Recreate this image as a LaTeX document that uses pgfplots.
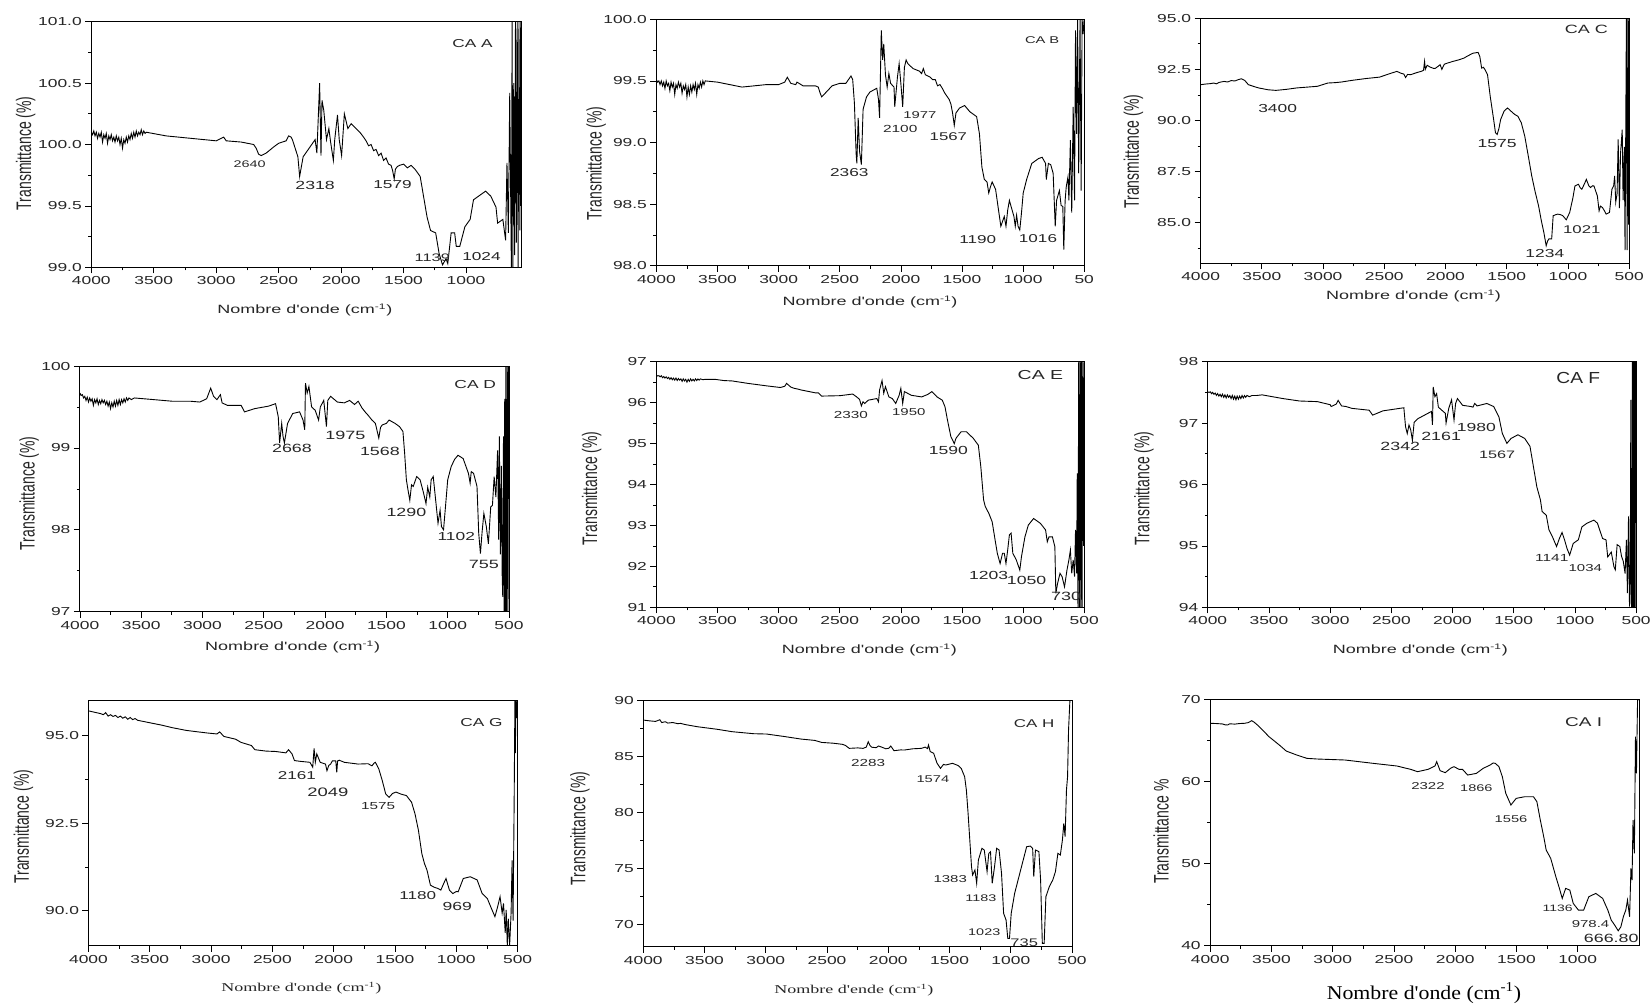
\documentclass[border=0pt]{standalone}
\usepackage{pgfplots}
\pgfplotsset{compat=1.18}
\usepackage{fontspec}
\setmainfont{Liberation Sans}
\newfontfamily\sans{Liberation Sans}
\newfontfamily\serif{Liberation Serif}
\definecolor{tx}{HTML}{262626}
\newcommand{\fs}[1]{\fontsize{#1pt}{#1pt}\selectfont}
\newcommand{\hs}[1]{\scalebox{1.5}[1]{#1}}
\newcommand{\ylab}[1]{\scalebox{1}[1.5]{\sans\fs{14}#1}}
\pgfplotsset{
  panel/.style={
    scale only axis, anchor=north west, x dir=reverse,
    tick align=outside, tick pos=left,
    major tick length=6pt, minor tick length=3pt, minor tick num=1,
    axis line style={line width=0.8pt},
    every tick/.style={black, line width=0.7pt},
    ticklabel style={font=\sans\fs{11.6}, text=tx},
    /pgf/number format/assume math mode=true,
    /pgf/number format/1000 sep={},
    xticklabel={\hs{\pgfmathprintnumber{\tick}}},
    yticklabel={\hs{\pgfmathprintnumber{\tick}}},
    xmin=500, xmax=4000, xtick={500,1000,1500,2000,2500,3000,3500,4000},
    clip mode=individual,
  },
  spec/.style={black, line width=0.9pt, mark=none},
  onedec/.style={yticklabel style={/pgf/number format/.cd, fixed, fixed zerofill, precision=1}},
}
\tikzset{ann/.style={text=tx, inner sep=0pt}}
\newcommand{\an}[4]{\node[ann] at (axis cs:#1,#2) {\hs{\sans\fs{#3}#4}};}
\begin{document}
\begin{tikzpicture}
\useasboundingbox (0pt,0pt) rectangle (1652pt,-1005pt);

% ---------------- CA A ----------------
\begin{axis}[panel, onedec, at={(91.3pt,-21.7pt)}, width=429.8pt, height=245.6pt,
  xmin=559, xtick={1000,1500,2000,2500,3000,3500,4000},
  ymin=99, ymax=101, ytick={99,99.5,100,100.5,101}]
\addplot[spec] coordinates {(4000,100.10) (3990,100.08) (3980,100.11) (3970,100.07) (3960,100.10) (3950,100.05) (3940,100.09) (3930,100.06) (3920,100.10) (3910,100.02) (3900,100.08) (3890,100.05) (3880,100.09) (3870,100.01) (3860,100.07) (3850,100.04) (3840,100.08) (3830,100.03) (3820,100.06) (3810,100.02) (3800,100.07) (3790,100.03) (3780,100.06) (3770,100.00) (3760,100.05) (3750,99.97) (3740,100.04) (3730,100.01) (3720,100.06) (3710,100.02) (3700,100.07) (3690,100.04) (3680,100.09) (3670,100.05) (3660,100.10) (3650,100.06) (3640,100.11) (3630,100.07) (3620,100.10) (3610,100.08) (3600,100.12) (3590,100.08) (3580,100.11) (3570,100.09) (3560,100.10) (3400,100.07) (3200,100.05) (3000,100.03) (2940,100.06) (2920,100.03) (2800,100.02) (2700,100.0) (2680,99.97) (2660,99.92) (2640,99.91) (2600,99.93) (2540,99.98) (2500,100.01) (2440,100.03) (2420,100.07) (2400,100.06) (2390,100.04) (2346,99.90) (2332,99.74) (2304,99.90) (2249,99.98) (2208,100.04) (2194,99.93) (2172,100.50) (2161,99.91) (2153,100.36) (2139,100.28) (2117,100.04) (2098,100.13) (2084,100.02) (2062,99.87) (2051,100.04) (2029,100.24) (2015,100.04) (1996,99.91) (1974,100.25) (1946,100.13) (1919,100.17) (1880,100.13) (1850,100.10) (1820,100.06) (1800,100.03) (1780,99.99) (1760,100.00) (1740,99.95) (1720,99.96) (1700,99.91) (1680,99.93) (1660,99.87) (1640,99.89) (1620,99.84) (1600,99.83) (1588,99.79) (1575,99.72) (1565,99.80) (1550,99.82) (1533,99.83) (1500,99.84) (1470,99.81) (1440,99.83) (1410,99.80) (1395,99.78) (1367,99.74) (1312,99.41) (1284,99.30) (1243,99.28) (1215,99.11) (1188,99.02) (1160,99.07) (1146,99.03) (1119,99.28) (1091,99.28) (1078,99.17) (1050,99.17) (1022,99.28) (1009,99.33) (967,99.39) (940,99.55) (871,99.60) (843,99.62) (802,99.58) (760,99.49) (747,99.36) (705,99.39) (683,99.22) (672,99.85) (661,99.28) (650,100.42) (637,99.0) (631,101.0) (625,99.0) (618,100.5) (611,99.1) (604,101.0) (597,99.2) (590,101.0) (583,99.0) (576,101.0) (569,99.3) (562,101.0) (559,99.5)};
\an{2732}{99.84}{9.6}{2640}
\an{2208}{99.67}{11.8}{2318}
\an{1588}{99.67}{11.5}{1579}
\an{1270}{99.08}{10.9}{1139}
\an{876}{99.09}{11.5}{1024}
\an{948}{100.82}{11.5}{CA A}
\end{axis}

% ---------------- CA B ----------------
\begin{axis}[panel, onedec, at={(656.4pt,-19.3pt)}, width=427.8pt, height=246.4pt,
  ymin=98, ymax=100, ytick={98,98.5,99,99.5,100},
  xticklabels={\hs{50},\hs{1000},\hs{1500},\hs{2000},\hs{2500},\hs{3000},\hs{3500},\hs{4000}}]
\addplot[spec] coordinates {(4000,99.51) (3990,99.49) (3980,99.50) (3970,99.47) (3960,99.50) (3950,99.46) (3940,99.49) (3930,99.44) (3920,99.50) (3910,99.46) (3900,99.48) (3890,99.42) (3880,99.49) (3870,99.45) (3860,99.48) (3850,99.39) (3840,99.47) (3830,99.44) (3820,99.49) (3810,99.45) (3800,99.48) (3790,99.40) (3780,99.46) (3770,99.43) (3760,99.47) (3750,99.37) (3740,99.45) (3730,99.39) (3720,99.46) (3710,99.41) (3700,99.47) (3690,99.43) (3680,99.48) (3670,99.39) (3660,99.47) (3650,99.44) (3640,99.49) (3630,99.45) (3620,99.50) (3610,99.47) (3600,99.50) (3500,99.49) (3400,99.47) (3300,99.45) (3200,99.46) (3100,99.47) (3000,99.47) (2950,99.49) (2929,99.53) (2900,99.48) (2860,99.47) (2850,99.49) (2800,99.46) (2700,99.46) (2676,99.45) (2660,99.40) (2648,99.37) (2600,99.42) (2563,99.46) (2500,99.48) (2450,99.48) (2408,99.54) (2394,99.51) (2380,99.32) (2366,98.91) (2360,98.83) (2349,99.20) (2338,98.93) (2323,98.82) (2309,99.27) (2281,99.37) (2253,99.41) (2197,99.44) (2183,99.35) (2174,99.20) (2160,99.91) (2149,99.67) (2140,99.80) (2126,99.55) (2112,99.45) (2098,99.56) (2084,99.48) (2056,99.45) (2050,99.29) (2028,99.53) (2014,99.64) (2000,99.48) (1985,99.29) (1971,99.61) (1957,99.67) (1943,99.64) (1900,99.60) (1850,99.58) (1830,99.56) (1816,99.60) (1800,99.55) (1760,99.53) (1740,99.51) (1718,99.51) (1700,99.46) (1680,99.47) (1661,99.44) (1640,99.40) (1605,99.35) (1590,99.31) (1577,99.24) (1563,99.14) (1549,99.24) (1520,99.28) (1478,99.30) (1436,99.25) (1380,99.21) (1357,99.07) (1337,98.80) (1317,98.70) (1295,98.68) (1281,98.59) (1267,98.64) (1253,98.68) (1225,98.62) (1205,98.48) (1182,98.32) (1154,98.40) (1140,98.32) (1126,98.45) (1112,98.53) (1098,98.48) (1075,98.40) (1064,98.32) (1053,98.41) (1041,98.32) (1027,98.29) (1013,98.43) (999,98.59) (971,98.70) (929,98.83) (873,98.87) (844,98.88) (816,98.83) (810,98.70) (793,98.83) (774,98.82) (754,98.75) (737,98.32) (726,98.53) (703,98.61) (689,98.49) (675,98.48) (667,98.13) (656,98.53) (647,98.64) (633,98.72) (625,98.53) (613,99.02) (602,98.43) (590,99.29) (579,98.53) (571,99.91) (562,99.07) (554,100.0) (545,98.75) (534,100.0) (525,98.61) (517,100.0) (509,99.88) (501,100.0)};
\an{2422}{98.76}{11.5}{2363}
\an{2005}{99.11}{10.3}{2100}
\an{1845}{99.22}{9.9}{1977}
\an{1611}{99.05}{11.2}{1567}
\an{1371}{98.21}{11.4}{1190}
\an{878}{98.22}{11.4}{1016}
\an{844}{99.83}{9.8}{CA B}
\end{axis}

% ---------------- CA C ----------------
\begin{axis}[panel, onedec, at={(1200.6pt,-18.3pt)}, width=428.6pt, height=245pt,
  ymin=83, ymax=95, ytick={85,87.5,90,92.5,95}, minor y tick num=0, minor ytick={83.75,86.25,88.75,91.25,93.75}]
\addplot[spec] coordinates {(4000,91.75) (3960,91.78) (3920,91.80) (3893,91.83) (3870,91.79) (3850,91.86) (3808,91.91) (3780,91.88) (3750,91.95) (3720,91.93) (3695,91.99) (3667,92.04) (3640,91.96) (3610,91.75) (3560,91.65) (3526,91.59) (3450,91.50) (3385,91.47) (3300,91.52) (3215,91.59) (3150,91.62) (3046,91.67) (2961,91.83) (2900,91.85) (2850,91.88) (2764,91.96) (2650,92.05) (2538,92.12) (2450,92.30) (2397,92.40) (2360,92.30) (2340,92.27) (2326,92.10) (2310,92.25) (2284,92.24) (2230,92.35) (2199,92.40) (2180,92.45) (2171,92.89) (2165,92.50) (2150,92.70) (2129,92.62) (2100,92.55) (2086,92.54) (2060,92.65) (2044,92.73) (2030,92.50) (2010,92.75) (1988,92.80) (1960,92.85) (1945,92.88) (1889,92.97) (1850,93.05) (1818,93.16) (1776,93.29) (1734,93.33) (1720,93.13) (1705,92.56) (1690,92.60) (1677,92.48) (1657,92.24) (1635,91.18) (1607,90.04) (1592,89.39) (1578,89.31) (1564,89.60) (1550,90.04) (1522,90.45) (1494,90.61) (1465,90.45) (1437,90.30) (1409,90.20) (1381,89.88) (1353,89.23) (1324,88.25) (1296,87.28) (1268,86.50) (1240,85.81) (1218,85.10) (1197,84.51) (1178,83.86) (1166,84.10) (1155,84.20) (1133,84.20) (1121,85.33) (1100,85.38) (1084,85.41) (1060,85.38) (1042,85.33) (1014,85.13) (986,85.49) (960,86.20) (943,86.79) (915,86.87) (900,86.70) (887,86.63) (865,86.90) (850,87.11) (830,86.80) (816,86.71) (800,86.80) (788,86.79) (760,86.30) (746,85.57) (735,85.80) (718,85.73) (700,85.55) (689,85.41) (661,85.49) (641,86.63) (627,86.79) (619,87.28) (610,86.00) (599,86.41) (590,89.07) (580,85.70) (571,88.37) (557,89.55) (550,86.10) (540,88.70) (534,83.65) (523,95.0) (517,83.65) (511,95.0) (506,84.9) (500,95.0)};
\an{3371}{90.58}{11.6}{3400}
\an{1578}{88.85}{11.7}{1575}
\an{1189}{83.5}{11.6}{1234}
\an{887}{84.67}{11.2}{1021}
\an{850}{94.46}{12}{CA C}
\end{axis}

% ---------------- CA D ----------------
\begin{axis}[panel, at={(79.9pt,-366pt)}, width=429.1pt, height=245.7pt,
  ymin=97, ymax=100, ytick={97,98,99,100}]
\addplot[spec] coordinates {(4000,99.67) (3990,99.64) (3980,99.65) (3970,99.61) (3960,99.63) (3950,99.58) (3940,99.62) (3930,99.56) (3920,99.61) (3910,99.57) (3900,99.60) (3890,99.52) (3880,99.59) (3870,99.55) (3860,99.60) (3850,99.53) (3840,99.58) (3830,99.54) (3820,99.59) (3810,99.55) (3800,99.58) (3790,99.53) (3780,99.57) (3770,99.51) (3760,99.56) (3750,99.48) (3740,99.55) (3730,99.50) (3720,99.57) (3710,99.51) (3700,99.58) (3690,99.52) (3680,99.59) (3670,99.53) (3660,99.59) (3650,99.55) (3640,99.60) (3630,99.56) (3620,99.61) (3610,99.58) (3600,99.61) (3580,99.59) (3556,99.61) (3400,99.59) (3247,99.57) (3100,99.57) (3022,99.56) (2966,99.60) (2933,99.73) (2910,99.63) (2882,99.59) (2854,99.65) (2840,99.55) (2798,99.52) (2685,99.52) (2657,99.44) (2573,99.48) (2461,99.51) (2404,99.54) (2382,99.38) (2371,99.06) (2354,99.30) (2343,99.14) (2332,99.06) (2306,99.30) (2264,99.42) (2208,99.44) (2180,99.34) (2166,99.22) (2160,99.79) (2146,99.67) (2132,99.75) (2110,99.50) (2081,99.46) (2053,99.34) (2039,99.50) (2011,99.58) (1989,99.26) (1978,99.58) (1955,99.63) (1900,99.56) (1843,99.55) (1800,99.58) (1760,99.53) (1730,99.57) (1700,99.49) (1674,99.44) (1650,99.40) (1618,99.34) (1590,99.30) (1562,99.12) (1548,99.25) (1534,99.28) (1500,99.30) (1478,99.34) (1430,99.30) (1393,99.26) (1365,99.20) (1351,98.93) (1337,98.61) (1323,98.48) (1309,98.36) (1295,98.55) (1281,98.53) (1253,98.65) (1225,98.61) (1197,98.45) (1177,98.32) (1163,98.52) (1146,98.40) (1135,98.61) (1118,98.65) (1098,98.36) (1079,98.08) (1062,98.24) (1051,98.04) (1034,98.00) (1017,98.30) (1000,98.61) (972,98.77) (944,98.86) (916,98.91) (874,98.87) (831,98.69) (817,98.57) (808,98.71) (789,98.69) (761,98.53) (747,97.96) (733,97.71) (719,97.98) (705,98.20) (685,98.04) (668,97.83) (649,98.28) (635,98.30) (621,98.65) (607,98.40) (593,98.97) (584,97.88) (579,99.14) (570,97.70) (562,98.78) (556,97.47) (551,97.18) (545,99.14) (540,97.0) (535,99.6) (530,97.0) (525,100.0) (519,97.0) (514,100.0) (508,97.0) (503,100.0) (500,98.5)};
\an{2270}{98.99}{11.9}{2668}
\an{1834}{99.15}{12}{1975}
\an{1553}{98.96}{11.9}{1568}
\an{1337}{98.21}{11.9}{1290}
\an{930}{97.92}{11.6}{1102}
\an{705}{97.58}{12}{755}
\an{775}{99.77}{11.6}{CA D}
\end{axis}

% ---------------- CA E ----------------
\begin{axis}[panel, at={(656.4pt,-361.7pt)}, width=427.8pt, height=245.6pt,
  ymin=91, ymax=97, ytick={91,92,93,94,95,96,97}]
\addplot[spec] coordinates {(4000,96.67) (3990,96.65) (3980,96.66) (3970,96.63) (3960,96.66) (3950,96.61) (3940,96.64) (3930,96.60) (3920,96.63) (3910,96.59) (3900,96.62) (3890,96.57) (3880,96.61) (3870,96.56) (3860,96.60) (3850,96.55) (3840,96.60) (3830,96.54) (3820,96.59) (3810,96.55) (3800,96.58) (3790,96.52) (3780,96.58) (3770,96.53) (3760,96.57) (3750,96.50) (3740,96.57) (3730,96.52) (3720,96.58) (3710,96.53) (3700,96.57) (3690,96.53) (3680,96.58) (3670,96.54) (3660,96.58) (3650,96.55) (3640,96.58) (3620,96.56) (3600,96.57) (3521,96.57) (3450,96.54) (3380,96.53) (3250,96.47) (3098,96.41) (2986,96.37) (2950,96.40) (2935,96.47) (2900,96.38) (2873,96.35) (2840,96.33) (2817,96.31) (2700,96.24) (2676,96.24) (2648,96.16) (2500,96.17) (2394,96.21) (2366,96.15) (2338,96.08) (2323,95.92) (2310,96.02) (2295,95.98) (2267,96.06) (2197,96.10) (2183,96.02) (2174,96.31) (2154,96.54) (2140,96.23) (2126,96.39) (2098,96.14) (2070,96.10) (2042,95.98) (2014,96.18) (2000,96.35) (1985,95.98) (1971,96.27) (1915,96.18) (1830,96.14) (1780,96.20) (1746,96.27) (1704,96.14) (1661,96.06) (1639,95.90) (1619,95.58) (1591,95.17) (1563,95.00) (1549,95.13) (1507,95.29) (1464,95.29) (1408,95.13) (1366,94.96) (1346,94.44) (1323,93.62) (1309,93.46) (1281,93.30) (1253,93.09) (1233,92.72) (1211,92.32) (1188,92.07) (1168,92.32) (1154,92.32) (1140,92.07) (1126,92.40) (1112,92.77) (1098,92.81) (1084,92.32) (1070,92.24) (1056,92.16) (1027,91.91) (1013,92.24) (985,92.72) (957,93.01) (914,93.17) (858,93.05) (816,92.89) (802,92.60) (788,92.72) (760,92.72) (740,92.48) (732,91.34) (718,91.58) (698,91.83) (681,91.75) (661,91.50) (641,91.91) (625,92.16) (613,92.40) (602,91.83) (590,92.16) (579,91.75) (571,92.89) (562,91.83) (557,94.27) (551,91.0) (545,97.0) (540,91.0) (534,97.0) (528,91.0) (523,97.0) (517,91.0) (512,97.0) (506,92.5) (500,97.0)};
\an{2408}{95.70}{10.2}{2330}
\an{1935}{95.76}{10}{1950}
\an{1611}{94.82}{11.7}{1590}
\an{1281}{91.79}{11.7}{1203}
\an{971}{91.65}{11.8}{1050}
\an{647}{91.26}{12}{730}
\an{858}{96.67}{13}{CA E}
\end{axis}

% ---------------- CA F ----------------
\begin{axis}[panel, at={(1207.8pt,-361.7pt)}, width=428.3pt, height=245.6pt,
  ymin=94, ymax=98, ytick={94,95,96,97,98}]
\addplot[spec] coordinates {(4000,97.51) (3990,97.50) (3980,97.51) (3970,97.48) (3960,97.50) (3950,97.47) (3940,97.49) (3930,97.45) (3920,97.48) (3910,97.44) (3900,97.47) (3890,97.43) (3880,97.47) (3870,97.42) (3860,97.46) (3850,97.41) (3840,97.46) (3830,97.42) (3820,97.45) (3810,97.40) (3800,97.45) (3790,97.39) (3780,97.44) (3770,97.38) (3760,97.44) (3750,97.39) (3740,97.44) (3730,97.40) (3720,97.45) (3710,97.41) (3700,97.45) (3690,97.42) (3680,97.45) (3660,97.43) (3640,97.45) (3600,97.45) (3556,97.46) (3387,97.40) (3250,97.36) (3105,97.35) (3000,97.30) (2992,97.27) (2950,97.31) (2935,97.37) (2907,97.28) (2870,97.27) (2822,97.24) (2681,97.21) (2653,97.13) (2568,97.20) (2398,97.25) (2384,96.94) (2370,96.83) (2356,96.97) (2342,96.89) (2328,96.72) (2314,97.01) (2285,97.07) (2201,97.16) (2172,97.19) (2164,96.97) (2158,97.59) (2144,97.43) (2130,97.48) (2116,97.26) (2088,97.21) (2059,97.16) (2053,97.0) (2031,97.24) (2008,97.38) (1988,97.05) (1975,97.32) (1960,97.40) (1918,97.29) (1850,97.27) (1833,97.26) (1819,97.32) (1800,97.28) (1720,97.32) (1664,97.27) (1621,97.10) (1593,96.83) (1556,96.67) (1522,96.75) (1466,96.81) (1410,96.75) (1367,96.62) (1339,96.29) (1311,95.96) (1282,95.75) (1268,95.56) (1234,95.50) (1212,95.26) (1184,95.15) (1150,94.99) (1127,95.12) (1105,95.22) (1085,95.10) (1065,94.96) (1043,94.85) (1014,95.04) (972,95.10) (943,95.31) (901,95.37) (845,95.42) (816,95.37) (774,95.12) (746,95.10) (732,94.82) (703,94.90) (681,94.66) (670,94.61) (655,95.02) (633,94.99) (619,94.83) (605,94.75) (590,94.55) (579,95.10) (571,94.23) (562,95.48) (554,94.01) (548,94.5) (543,97.38) (538,94.0) (534,94.0) (530,98.0) (525,94.0) (521,98.0) (517,94.0) (513,98.0) (508,94.0) (504,98.0) (500,97.4)};
\an{2427}{96.62}{11.9}{2342}
\an{2093}{96.78}{11.9}{2161}
\an{1805}{96.93}{11.7}{1980}
\an{1636}{96.49}{10.8}{1567}
\an{1189}{94.81}{10.3}{1141}
\an{915}{94.64}{10}{1034}
\node[ann] at (axis cs:972,97.73) {\scalebox{1.2}[1]{\sans\fs{16}CA F}};
\end{axis}

% ---------------- CA G ----------------
\begin{axis}[panel, onedec, at={(88.5pt,-700.7pt)}, width=429.1pt, height=245pt,
  ymin=89, ymax=96, ytick={90,92.5,95}, minor y tick num=0, minor ytick={91.25,93.75}]
\addplot[spec] coordinates {(4000,95.71) (3950,95.67) (3900,95.63) (3879,95.60) (3860,95.66) (3840,95.56) (3820,95.60) (3800,95.55) (3780,95.58) (3760,95.52) (3740,95.56) (3720,95.50) (3700,95.54) (3680,95.47) (3660,95.52) (3640,95.46) (3620,95.49) (3598,95.44) (3514,95.38) (3400,95.30) (3317,95.23) (3200,95.15) (3037,95.08) (2952,95.05) (2930,95.11) (2896,94.98) (2800,94.90) (2756,94.81) (2700,94.75) (2671,94.72) (2643,94.60) (2550,94.56) (2475,94.55) (2390,94.51) (2368,94.60) (2340,94.48) (2320,94.29) (2278,94.27) (2194,94.24) (2171,94.10) (2160,94.64) (2150,94.24) (2138,94.48) (2110,94.24) (2067,94.19) (2055,94.00) (2040,94.15) (2025,94.19) (2011,94.28) (1983,94.28) (1975,93.95) (1968,94.28) (1955,94.30) (1913,94.24) (1801,94.19) (1720,94.20) (1688,94.14) (1670,94.22) (1660,94.24) (1632,94.05) (1604,93.72) (1576,93.34) (1548,93.24) (1520,93.35) (1492,93.39) (1450,93.33) (1407,93.29) (1365,93.10) (1337,92.77) (1309,92.30) (1281,91.63) (1260,91.35) (1239,91.16) (1211,90.73) (1180,90.67) (1154,90.64) (1126,90.59) (1100,90.80) (1084,90.92) (1056,90.59) (1028,90.49) (1000,90.55) (985,90.54) (943,90.92) (886,90.97) (830,90.88) (789,90.49) (747,90.35) (719,90.11) (685,89.83) (663,90.11) (643,90.40) (626,89.93) (615,90.21) (601,89.37) (593,90.02) (584,89.0) (576,89.77) (565,89.0) (553,89.94) (545,91.44) (537,89.72) (528,93.15) (522,96.0) (518,94.5) (514,96.0) (508,95.5) (503,96.0)};
\an{2301}{93.86}{11.4}{2161}
\an{2048}{93.39}{12.3}{2049}
\an{1638}{92.98}{10.2}{1575}
\an{1315}{90.42}{11.4}{1180}
\an{992}{90.11}{11.7}{969}
\an{795}{95.38}{11.5}{CA G}
\end{axis}

% ---------------- CA H ----------------
\begin{axis}[panel, at={(643.3pt,-700.7pt)}, width=428.8pt, height=246pt,
  ymin=68, ymax=90, ytick={70,75,80,85,90}]
\addplot[spec] coordinates {(4000,88.27) (3950,88.20) (3900,88.15) (3865,88.30) (3850,88.05) (3820,88.12) (3800,88.0) (3760,88.05) (3720,87.95) (3696,87.97) (3650,87.85) (3556,87.67) (3400,87.45) (3275,87.23) (3100,87.05) (2994,87.02) (2850,86.80) (2712,86.57) (2600,86.45) (2544,86.27) (2450,86.20) (2375,86.10) (2350,86.00) (2319,85.74) (2250,85.78) (2206,85.74) (2180,85.85) (2164,86.33) (2150,86.00) (2136,85.84) (2100,85.80) (2080,85.95) (2052,85.84) (2020,85.70) (1996,85.75) (1980,85.95) (1954,85.53) (1900,85.60) (1869,85.59) (1800,85.70) (1729,85.74) (1700,85.85) (1680,85.72) (1672,86.04) (1658,85.45) (1630,85.30) (1602,84.40) (1574,83.95) (1550,84.30) (1532,84.25) (1476,84.40) (1430,84.20) (1405,83.95) (1377,83.20) (1363,82.01) (1349,79.93) (1335,77.54) (1321,75.16) (1312,74.41) (1293,74.86) (1279,73.67) (1265,75.75) (1236,76.80) (1217,76.65) (1194,74.71) (1180,76.35) (1166,76.50) (1152,73.67) (1133,75.16) (1116,76.80) (1096,76.65) (1076,74.56) (1059,70.98) (1039,70.39) (1025,68.75) (1011,68.75) (997,70.98) (969,72.77) (913,75.16) (871,76.94) (842,77.00) (822,76.80) (813,74.26) (799,76.65) (771,76.50) (757,73.96) (743,68.30) (728,68.30) (714,72.47) (686,73.37) (658,73.96) (636,74.71) (616,76.35) (596,76.20) (579,77.54) (568,79.03) (557,77.84) (546,82.01) (537,83.20) (529,87.38) (518,90.0)};
\an{2164}{84.46}{10.2}{2283}
\an{1636}{83.0}{9.8}{1574}
\an{1495}{74.02}{10}{1383}
\an{1245}{72.38}{9.6}{1183}
\an{1217}{69.34}{9.6}{1023}
\an{891}{68.36}{11}{735}
\an{809}{87.97}{11.3}{CA H}
\end{axis}

% ---------------- CA I ----------------
\begin{axis}[panel, at={(1210.2pt,-699.3pt)}, width=428.7pt, height=246.4pt,
  xtick={1000,1500,2000,2500,3000,3500,4000},
  ymin=40, ymax=70, ytick={40,50,60,70}]
\addplot[spec] coordinates {(4000,67.08) (3950,67.05) (3900,67.00) (3880,66.90) (3859,66.87) (3840,67.02) (3800,66.98) (3760,67.05) (3720,67.08) (3690,67.16) (3661,67.40) (3640,67.20) (3605,66.75) (3520,65.45) (3436,64.44) (3379,63.70) (3294,63.22) (3210,62.81) (3125,62.73) (2899,62.61) (2673,62.21) (2476,61.88) (2363,61.47) (2307,61.19) (2222,61.47) (2165,61.88) (2151,62.41) (2123,61.31) (2081,61.07) (2038,61.60) (2010,61.80) (1968,61.47) (1940,61.47) (1898,60.78) (1827,60.98) (1771,61.60) (1714,62.00) (1690,62.25) (1672,62.20) (1643,61.80) (1615,60.58) (1587,58.55) (1545,57.13) (1502,57.94) (1432,58.14) (1361,58.14) (1333,57.54) (1305,55.30) (1277,53.27) (1257,51.65) (1220,50.63) (1178,48.40) (1149,46.98) (1126,45.76) (1098,46.98) (1064,46.77) (1036,45.15) (994,44.34) (951,44.34) (909,45.96) (852,46.37) (796,45.76) (754,44.34) (726,43.12) (698,42.51) (669,41.82) (647,42.31) (627,43.53) (607,44.34) (593,45.56) (576,43.53) (565,49.41) (556,48.0) (548,55.30) (537,51.24) (528,65.45) (520,60.98) (511,69.92) (500,70.0)};
\an{2222}{59.48}{10}{2322}
\an{1827}{59.24}{9.7}{1866}
\an{1544}{55.38}{9.8}{1556}
\an{1163}{44.54}{9.3}{1136}
\an{895}{42.64}{10}{978.4}
\an{726}{40.89}{11.9}{666.80}
\an{952}{67.28}{12.7}{CA I}
\end{axis}

% ---------------- axis titles ----------------
\foreach \x/\y in {25.8/153.3, 596.2/163.3, 1133.5/151.7, 29.3/493.3, 591.7/488.3, 1143.9/488.3, 23.4/826.7, 580/828.3}
  \node[rotate=90, text=tx] at (\x pt,-\y pt) {\ylab{Transmittance (\%)}};
\node[rotate=90, text=tx] at (1161.2pt,-831.7pt) {\ylab{Transmittance \%}};

\foreach \x/\y in {304.8/310, 870/301.7, 1413.5/296, 292.7/646.7, 869.3/650, 1420.4/650}
  \node[text=tx] at (\x pt,-\y pt) {\hs{\sans\fs{12}Nombre d'onde (cm\textsuperscript{-1})}};
\node[text=tx] at (301.4pt,-988.3pt) {\hs{\serif\fs{12}Nombre d'onde (cm\textsuperscript{-1})}};
\node[text=tx] at (853.8pt,-990pt) {\hs{\serif\fs{12}Nombre d'ende (cm\textsuperscript{-1})}};
\node[text=black] at (1423.9pt,-993.3pt) {\scalebox{1.12}[1]{\serif\fs{19.5}Nombre d'onde (cm\textsuperscript{-1})}};
\end{tikzpicture}
\end{document}
